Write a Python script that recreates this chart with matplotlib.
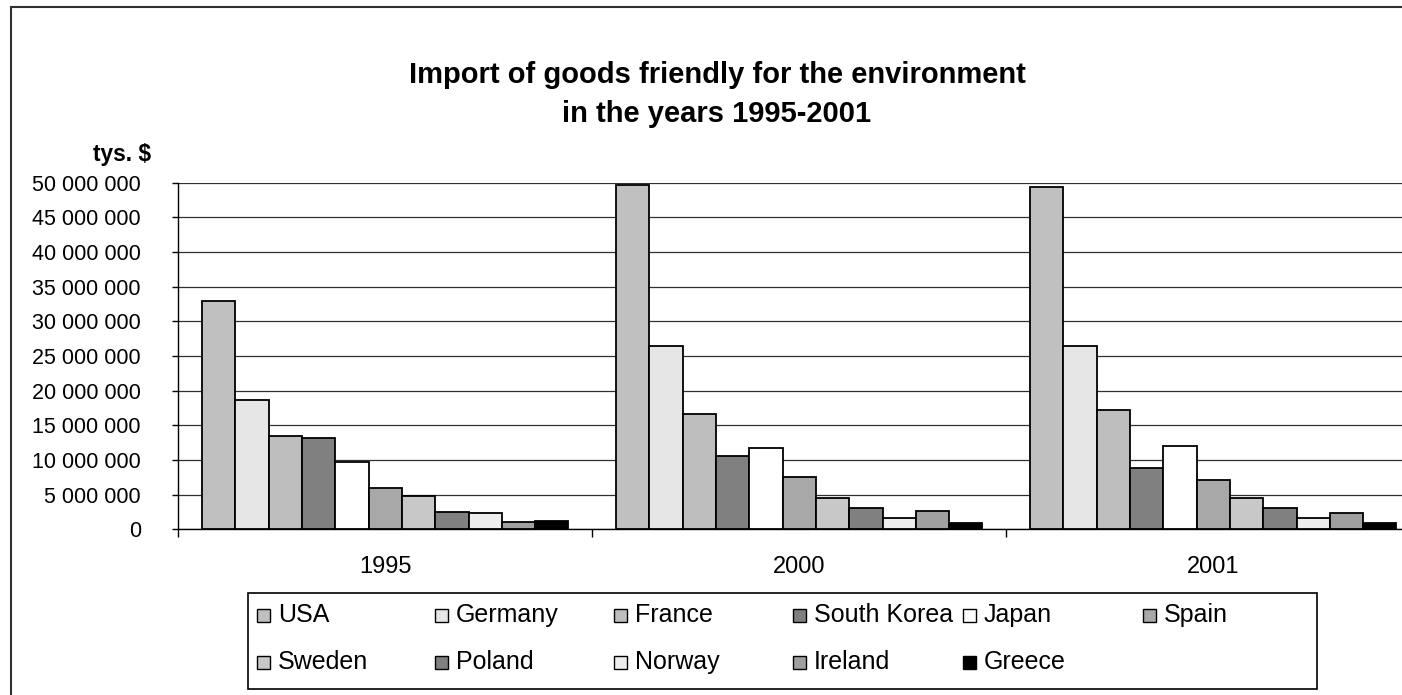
import matplotlib
matplotlib.use("Agg")
import matplotlib.pyplot as plt
from matplotlib.patches import Rectangle
from matplotlib.ticker import FuncFormatter, MultipleLocator
import numpy as np

plt.rcParams['font.family'] = ['Liberation Sans', 'DejaVu Sans']

years = ["1995", "2000", "2001"]
countries = ["USA", "Germany", "France", "South Korea", "Japan", "Spain",
             "Sweden", "Poland", "Norway", "Ireland", "Greece"]
# imports in thousands of dollars, one list per country (1995, 2000, 2001)
usa = [33000000, 49700000, 49400000]
germany = [18650000, 26450000, 26450000]
france = [13500000, 16600000, 17250000]
south_korea = [13200000, 10600000, 8900000]
japan = [9750000, 11800000, 12050000]
spain = [5950000, 7500000, 7100000]
sweden = [4800000, 4550000, 4550000]
poland = [2550000, 3100000, 3100000]
norway = [2300000, 1700000, 1700000]
ireland = [1100000, 2600000, 2300000]
greece = [1200000, 900000, 900000]
values = [usa, germany, france, south_korea, japan, spain,
          sweden, poland, norway, ireland, greece]
colors = ["#C0C0C0", "#E6E6E6", "#BEBEBE", "#808080", "#FFFFFF", "#A8A8A8",
          "#C8C8C8", "#808080", "#EEEEEE", "#A0A0A0", "#000000"]

W, H = 1402, 695
fig = plt.figure(figsize=(W / 100, H / 100), dpi=100)

# outer chart frame (runs off the right and bottom edge)
fig.add_artist(Rectangle((10.7 / W, -0.2), 1.2, (H - 6.7) / H + 0.2,
                         transform=fig.transFigure, fill=False,
                         edgecolor="#303030", linewidth=1.5))

ax = fig.add_axes([178.3 / W, (H - 529.3) / H, 1242 / W, 346.6 / H])

n = len(countries)
bw = 0.885 / n
x = np.arange(len(years)) + 0.5
for j, (vals, c) in enumerate(zip(values, colors)):
    ax.bar(x + (j - (n - 1) / 2) * bw, vals, width=bw, color=c,
           edgecolor="black", linewidth=1.3, zorder=3)

ax.set_xlim(0, 3)
ax.set_ylim(0, 50000000)
ax.yaxis.set_major_locator(MultipleLocator(5000000))
ax.yaxis.set_major_formatter(FuncFormatter(lambda v, p: f"{v:,.0f}".replace(",", " ")))
ax.grid(axis="y", color="#303030", linewidth=0.9, zorder=0)

ax.set_xticks([0, 1, 2, 3])
ax.set_xticklabels([])
ax.set_xticks(x, minor=True)
ax.set_xticklabels(years, minor=True)
ax.tick_params(axis="x", which="major", length=6, width=1, color="black")
ax.tick_params(axis="x", which="minor", length=0, pad=19, labelsize=17)
ax.tick_params(axis="y", length=4, width=1, pad=23, labelsize=15.5)

for s in ["top", "right"]:
    ax.spines[s].set_visible(False)
ax.spines["left"].set_linewidth(1)
ax.spines["bottom"].set_linewidth(1)

fig.text(717 / W, 1 - 75 / H, "Import of goods friendly for the environment",
         ha="center", va="center", fontsize=21, fontweight="bold")
fig.text(717 / W, 1 - 114 / H, "in the years 1995-2001",
         ha="center", va="center", fontsize=21, fontweight="bold")
fig.text(151 / W, 1 - 155 / H, "tys. $", ha="right", va="center",
         fontsize=16.4, fontweight="bold")

# legend box with two rows of entries
fig.add_artist(Rectangle((248 / W, 1 - 689 / H), (1317 - 248) / W, 96 / H,
                         transform=fig.transFigure, facecolor="white",
                         edgecolor="black", linewidth=1.2))
col_x = [257, 435, 614, 793, 963, 1143]
row_y = [615, 662]
for k, (name, c) in enumerate(zip(countries, colors)):
    cx = col_x[k % 6]
    cy = row_y[k // 6]
    fig.add_artist(Rectangle((cx / W, 1 - (cy + 6.5) / H), 13 / W, 13 / H,
                             transform=fig.transFigure, facecolor=c,
                             edgecolor="black", linewidth=1))
    fig.text((cx + 21) / W, 1 - cy / H, name, ha="left", va="center",
             fontsize=18)

fig.savefig("out.png", dpi=100)
